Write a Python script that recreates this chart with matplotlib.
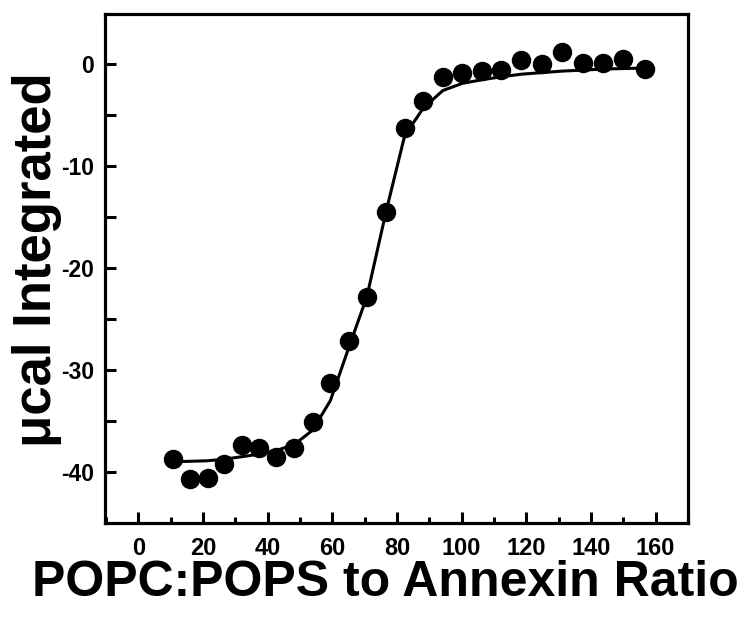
import matplotlib
matplotlib.use("Agg")
import matplotlib.pyplot as plt
from matplotlib.ticker import MultipleLocator

# Data
ratio = [10.7, 16.0, 21.4, 26.5, 32.0, 37.3, 42.6, 48.3, 53.9, 59.4, 65.1, 70.7,
         76.6, 82.4, 88.2, 94.2, 100.2, 106.2, 112.3, 118.5, 124.7, 131.0, 137.4,
         143.6, 149.9, 156.6]
heat = [-38.7, -40.7, -40.6, -39.2, -37.4, -37.6, -38.5, -37.6, -35.1, -31.3, -27.2,
        -22.8, -14.5, -6.25, -3.6, -1.3, -0.85, -0.65, -0.6, 0.4, 0.0, 1.2, 0.05,
        0.05, 0.45, -0.5]
fit = [-39.0, -38.95, -38.9, -38.75, -38.5, -38.25, -37.9, -37.3, -35.9, -33.0,
       -27.8, -22.8, -14.5, -7.0, -4.3, -2.6, -1.9, -1.55, -1.25, -1.0, -0.85,
       -0.7, -0.6, -0.5, -0.45, -0.4]
xticks = [0, 20, 40, 60, 80, 100, 120, 140, 160]
yticks = [0, -10, -20, -30, -40]

plt.rcParams['font.family'] = ['Liberation Sans', 'DejaVu Sans']
plt.rcParams['font.weight'] = 'bold'
plt.rcParams['axes.unicode_minus'] = False

fig = plt.figure(figsize=(7.43, 6.19), dpi=100)
ax = fig.add_axes([105 / 743, 1 - 523 / 619, (688 - 105) / 743, (523 - 14) / 619])

ax.plot(ratio, fit, color='black', lw=2.2, zorder=2)
ax.plot(ratio, heat, 'o', color='black', markersize=13, zorder=3)

ax.set_xlim(-10.3, 170)
ax.set_ylim(-45.0, 4.9)
ax.set_xticks(xticks)
ax.set_yticks(yticks)
ax.xaxis.set_minor_locator(MultipleLocator(10))
ax.yaxis.set_minor_locator(MultipleLocator(5))

for s in ax.spines.values():
    s.set_linewidth(2.3)

ax.tick_params(axis='x', which='major', direction='in', length=8, width=2.2, pad=10)
ax.tick_params(axis='x', which='minor', direction='in', length=4.5, width=2.2)
ax.tick_params(axis='y', which='both', direction='in', length=8, width=2.2, pad=8)
ax.tick_params(top=False, right=False, which='both')
for lab in ax.get_xticklabels():
    lab.set_fontsize(17)
    lab.set_fontweight('bold')
for lab in ax.get_yticklabels():
    lab.set_fontsize(16.5)
    lab.set_fontweight('bold')

fig.text(385 / 743, 1 - 583 / 619, 'POPC:POPS to Annexin Ratio', ha='center',
         va='center', fontsize=36, fontweight='bold')
fig.text(37 / 743, 1 - 260 / 619, 'μcal Integrated', ha='center', va='center',
         rotation=90, fontsize=38, fontweight='bold')

fig.savefig('out.png', dpi=100)
